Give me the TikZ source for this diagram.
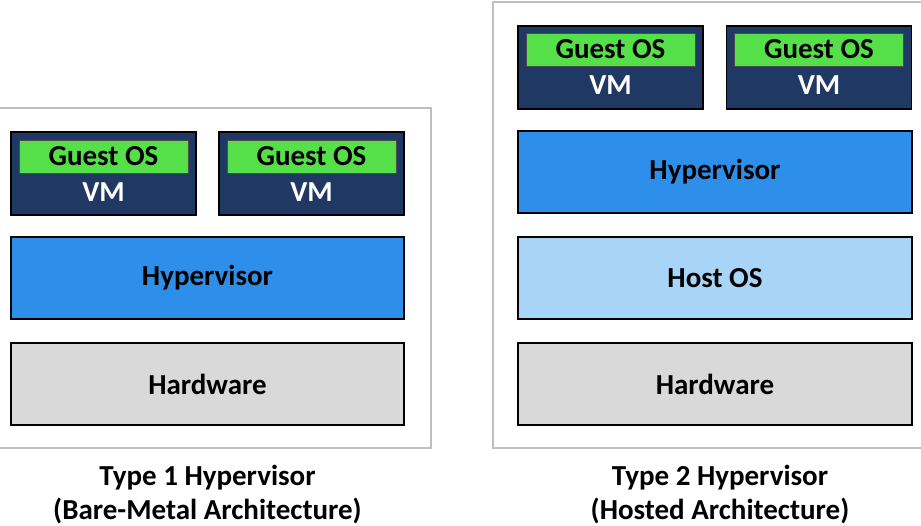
\documentclass[tikz,border=0pt]{standalone}
\usepackage{fontspec}
\setmainfont{Carlito}
\definecolor{vmnavy}{HTML}{203864}
\definecolor{guestgreen}{HTML}{55E04A}
\definecolor{hypblue}{HTML}{2E8FEA}
\definecolor{hostblue}{HTML}{A8D4F7}
\definecolor{hwgray}{HTML}{D9D9D9}
\definecolor{framegray}{HTML}{BFBFBF}
\tikzset{
  layer/.style={draw=black, line width=1.6pt, inner sep=0pt, font=\fontsize{29}{32}\selectfont\bfseries},
  vmbox/.style={layer, fill=vmnavy, minimum width=185pt, minimum height=83pt},
  guest/.style={draw=black!70, line width=0.6pt, fill=guestgreen, inner sep=0pt, minimum width=169pt, minimum height=33pt, font=\fontsize{29}{32}\selectfont\bfseries},
  vmlabel/.style={text=white, inner sep=0pt, font=\fontsize{29}{32}\selectfont\bfseries},
  wide/.style={layer, minimum width=393pt, minimum height=82pt},
  frame/.style={draw=framegray, line width=1.8pt},
  caption/.style={align=center, inner sep=0pt, font=\fontsize{29}{34}\selectfont\bfseries}
}
\begin{document}
\begin{tikzpicture}[x=1pt,y=-1pt]
\useasboundingbox (0,0) rectangle (921,525);
% frames
\draw[frame] (-5,108) rectangle (431,448);
\draw[frame] (493,2) rectangle (926,448);
% left column
\node[vmbox] (vm1) at (103.5,173.5) {};
\node[guest] (g1) at (103.5,156.5) {Guest OS};
\node[vmlabel] (v1) at (103.5,192) {VM};
\node[vmbox] (vm2) at (311.5,173.5) {};
\node[guest] (g2) at (311.5,156.5) {Guest OS};
\node[vmlabel] (v2) at (311.5,192) {VM};
\node[wide, fill=hypblue] (hyp1) at (207.5,278) {Hypervisor};
\node[wide, fill=hwgray] (hw1) at (207.5,384) {Hardware};
% right column
\node[vmbox] (vm3) at (610.5,67.5) {};
\node[guest] (g3) at (610.5,49.5) {Guest OS};
\node[vmlabel] (v3) at (610.5,85) {VM};
\node[vmbox] (vm4) at (819,67.5) {};
\node[guest] (g4) at (819,49.5) {Guest OS};
\node[vmlabel] (v4) at (819,85) {VM};
\node[wide, fill=hypblue, minimum width=394pt] (hyp2) at (715,172) {Hypervisor};
\node[wide, fill=hostblue, minimum width=394pt] (host) at (715,278) {Host OS};
\node[wide, fill=hwgray, minimum width=394pt] (hw2) at (715,384) {Hardware};
% captions
\node[caption] (c1) at (207.5,494.5) {Type 1 Hypervisor\\(Bare-Metal Architecture)};
\node[caption] (c2) at (720,494.5) {Type 2 Hypervisor\\(Hosted Architecture)};
\end{tikzpicture}
\end{document}
